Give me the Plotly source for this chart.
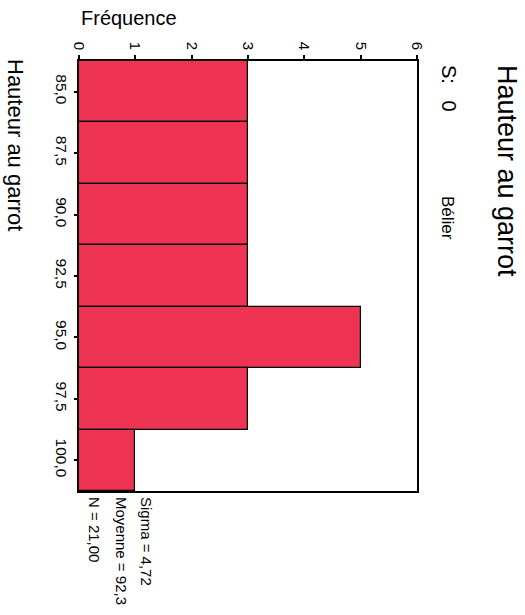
import plotly.graph_objects as go

bin_centers = [85.0, 87.5, 90.0, 92.5, 95.0, 97.5, 100.0]
counts = [3, 3, 3, 3, 5, 3, 1]
bin_labels = ["85,0", "87,5", "90,0", "92,5", "95,0", "97,5", "100,0"]
freq_ticks = [0, 1, 2, 3, 4, 5, 6]
stats = ["Sigma = 4,72", "Moyenne = 92,3", "N = 21,00"]

W, H = 525, 615
L, R, T, B = 79, 108, 61, 124
pw, ph = W - L - R, H - T - B

def px(x):
    return (x - L) / pw

def py(y):
    return (H - B - y) / ph

FONT = "Liberation Sans, Arial, sans-serif"

fig = go.Figure(go.Bar(
    y=bin_centers, x=counts, orientation="h", width=2.5,
    marker=dict(color="#ef3352", line=dict(color="black", width=1.2)),
    hoverinfo="skip",
))

annos = [
    dict(text="Hauteur au garrot", x=px(507), y=py(171), size=27),
    dict(text="S:&nbsp;&nbsp;&nbsp;0", x=px(449), y=py(88), size=20),
    dict(text="Bélier", x=px(447), y=py(218), size=17),
    dict(text="Hauteur au garrot", x=px(16), y=py(145), size=22),
    dict(text=stats[0], x=px(147), y=py(541), size=15),
    dict(text=stats[1], x=px(122), y=py(551), size=15),
    dict(text=stats[2], x=px(95), y=py(529), size=15),
]
annotations = [
    dict(text=a["text"], x=a["x"], y=a["y"], xref="paper", yref="paper",
         showarrow=False, textangle=90, xanchor="center", yanchor="middle",
         font=dict(size=a["size"], color="black", family=FONT))
    for a in annos
]
annotations.append(dict(text="Fréquence", x=px(79), y=py(18), xref="paper", yref="paper",
                        showarrow=False, xanchor="left", yanchor="middle",
                        font=dict(size=20, color="black", family=FONT)))

fig.update_layout(
    width=W, height=H,
    margin=dict(l=L, r=R, t=T, b=B),
    paper_bgcolor="white", plot_bgcolor="white",
    bargap=0, showlegend=False,
    font=dict(family=FONT, color="black"),
    xaxis=dict(side="top", range=[0, 6], tickvals=freq_ticks, tickangle=90,
               ticks="outside", ticklen=4, tickwidth=2, tickcolor="black",
               showline=True, linecolor="black", linewidth=1.5, mirror=True,
               showgrid=False, zeroline=False, tickfont=dict(size=15),
               automargin=False),
    yaxis=dict(range=[101.25, 83.75], tickvals=bin_centers, ticktext=bin_labels,
               tickangle=90, ticks="outside", ticklen=3, tickwidth=2, tickcolor="black",
               showline=True, linecolor="black", linewidth=1.5, mirror=True,
               showgrid=False, zeroline=False, tickfont=dict(size=15.5),
               automargin=False),
    annotations=annotations,
)

fig.write_html("out.html", config={"displayModeBar": False},
               post_script="document.body.style.margin='0';document.body.style.overflow='hidden';")
